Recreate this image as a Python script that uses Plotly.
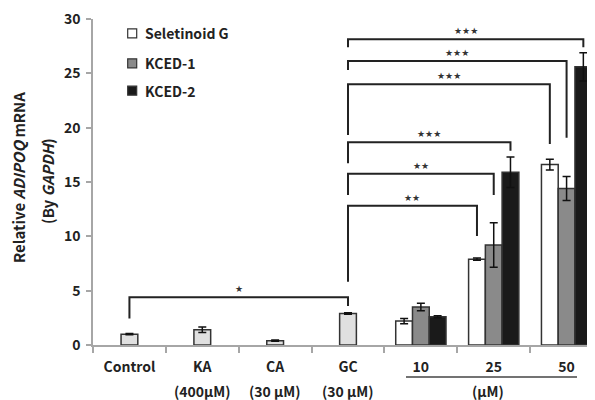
import plotly.graph_objects as go

# ---- data ----
categories = ["Control", "KA", "CA", "GC", "10", "25", "50"]
ctrl_cats = ["Control", "KA", "CA", "GC"]
ctrl_vals = [1.0, 1.4, 0.4, 2.9]
ctrl_err = [0.05, 0.25, 0.05, 0.07]

dose_cats = ["10", "25", "50"]
series_names = ["Seletinoid G", "KCED-1", "KCED-2"]
selet_vals = [2.2, 7.9, 16.6]
selet_err = [0.25, 0.1, 0.5]
kced1_vals = [3.5, 9.2, 14.4]
kced1_err = [0.35, 2.05, 1.1]
kced2_vals = [2.6, 15.9, 25.6]
kced2_err = [0.1, 1.4, 1.3]

sub_labels = {"KA": "(400\u03bcM)", "CA": "(30 \u03bcM)", "GC": "(30 \u03bcM)"}
unit_label = "(\u03bcM)"

# significance brackets: (from cat, bar slot, to cat, bar slot, top, left bottom, right bottom, label)
brackets = [
    ("Control", 0, "GC", 0, 4.39, 2.45, 3.6, "\u2605"),
    ("GC", 0, "25", -1, 12.82, 5.83, 10.03, "\u2605\u2605"),
    ("GC", 0, "25", 0, 15.76, 13.8, 13.8, "\u2605\u2605"),
    ("GC", 0, "25", 1, 18.65, 16.72, 17.88, "\u2605\u2605\u2605"),
    ("GC", 0, "50", -1, 23.99, 19.32, 18.5, "\u2605\u2605\u2605"),
    ("GC", 0, "50", 0, 26.13, 25.3, 19.08, "\u2605\u2605\u2605"),
    ("GC", 0, "50", 1, 28.13, 27.4, 27.4, "\u2605\u2605\u2605"),
]

FONT = "Noto Sans CJK KR, Noto Sans, sans-serif"
TXT = "#222222"
EDGE = "#333333"
BW = 0.23
FILLS = ["#ffffff", "#8a8a8a", "#1a1a1a"]

# plot-area geometry in page pixels (page has an 8px body margin)
PL, PR, PT, PB = 93, 595, 19, 345
def px(xp):
    return (xp - PL) / (PR - PL)
def py(yp):
    return (PB - yp) / (PB - PT)

fig = go.Figure()

def add_bar(name, x, y, err, fill, slot):
    fig.add_trace(go.Bar(
        name=name, x=x, y=y,
        width=BW, offset=slot * BW - BW / 2,
        marker=dict(color=fill, line=dict(color=EDGE, width=1.5)),
        error_y=dict(type="data", array=err, color="#111111", thickness=1.5, width=4),
        showlegend=False,
    ))

add_bar("controls", ctrl_cats, ctrl_vals, ctrl_err, "#e0e0e0", 0)
add_bar(series_names[0], dose_cats, selet_vals, selet_err, FILLS[0], -1)
add_bar(series_names[1], dose_cats, kced1_vals, kced1_err, FILLS[1], 0)
add_bar(series_names[2], dose_cats, kced2_vals, kced2_err, FILLS[2], 1)

idx = {c: i for i, c in enumerate(categories)}
shapes = []
annotations = []
for c0, s0, c1, s1, top, lb, rb, lab in brackets:
    x0 = idx[c0] + s0 * BW
    x1 = idx[c1] + s1 * BW
    shapes.append(dict(type="path", xref="x", yref="y",
                       path=f"M {x0},{lb} L {x0},{top} L {x1},{top} L {x1},{rb}",
                       line=dict(color="#222222", width=2)))
    annotations.append(dict(x=(x0 + x1) / 2, y=top, xref="x", yref="y", text=lab,
                            showarrow=False, yanchor="bottom", yshift=1,
                            font=dict(family="DejaVu Sans", size=9, color="#333333")))

for c, t in sub_labels.items():
    annotations.append(dict(x=idx[c], y=py(391), xref="x", yref="paper", text=t,
                            showarrow=False, yanchor="middle", xanchor="center",
                            font=dict(family=FONT, size=14, color=TXT, weight="bold")))
annotations.append(dict(x=px(488), y=py(391), xref="paper", yref="paper", text=unit_label,
                        showarrow=False, yanchor="middle", xanchor="center",
                        font=dict(family=FONT, size=14, color=TXT, weight="bold")))
shapes.append(dict(type="line", xref="paper", yref="paper",
                   x0=px(406), x1=px(577), y0=py(377), y1=py(377),
                   line=dict(color="#444444", width=1.5)))

# y-axis title (two lines)
annotations.append(dict(x=px(18), y=py(178), xref="paper", yref="paper",
                        text="Relative <i>ADIPOQ</i> mRNA", textangle=-90, showarrow=False,
                        xanchor="center", yanchor="middle",
                        font=dict(family=FONT, size=15, color=TXT, weight="bold")))
annotations.append(dict(x=px(47), y=py(181), xref="paper", yref="paper",
                        text="(By <i>GAPDH</i>)", textangle=-90, showarrow=False,
                        xanchor="center", yanchor="middle",
                        font=dict(family=FONT, size=15, color=TXT, weight="bold")))

# legend
leg_rows = [33.3, 63.3, 90.7]
for name, fill, yc in zip(series_names, FILLS, leg_rows):
    shapes.append(dict(type="rect", xref="paper", yref="paper",
                       x0=px(127.7), x1=px(136.7), y0=py(yc + 4.5), y1=py(yc - 4.5),
                       fillcolor=fill, line=dict(color=EDGE, width=1.2)))
    annotations.append(dict(x=px(143), y=py(yc), xref="paper", yref="paper", text=name,
                            showarrow=False, xanchor="left", yanchor="middle",
                            font=dict(family=FONT, size=14, color=TXT, weight="bold")))

fig.update_layout(
    width=587, height=392,
    margin=dict(l=PL - 8, r=0, t=PT - 8, b=400 - PB),
    paper_bgcolor="white", plot_bgcolor="white",
    barmode="overlay", showlegend=False,
    font=dict(family=FONT, color=TXT),
    shapes=shapes, annotations=annotations,
)
fig.update_xaxes(type="category", categoryorder="array", categoryarray=categories,
                 range=[-0.5, 6.39], tickson="boundaries", ticks="outside", ticklen=6,
                 tickcolor="#a6a6a6", tickwidth=1.5, ticklabelstandoff=8,
                 ticklabeloverflow="allow",
                 showline=True, linecolor="#a6a6a6", linewidth=1.5, showgrid=False,
                 tickfont=dict(family=FONT, size=14, color=TXT, weight="bold"))
fig.update_yaxes(range=[0, 30], tickmode="array", tickvals=[0, 5, 10, 15, 20, 25, 30],
                 ticks="outside", ticklen=5,
                 tickcolor="#a6a6a6", tickwidth=1.5, ticklabelstandoff=3,
                 ticklabeloverflow="allow",
                 showline=True, linecolor="#a6a6a6", linewidth=1.5, showgrid=False,
                 zeroline=False,
                 tickfont=dict(family=FONT, size=14, color=TXT, weight="bold"))

fig.write_html("out.html")
